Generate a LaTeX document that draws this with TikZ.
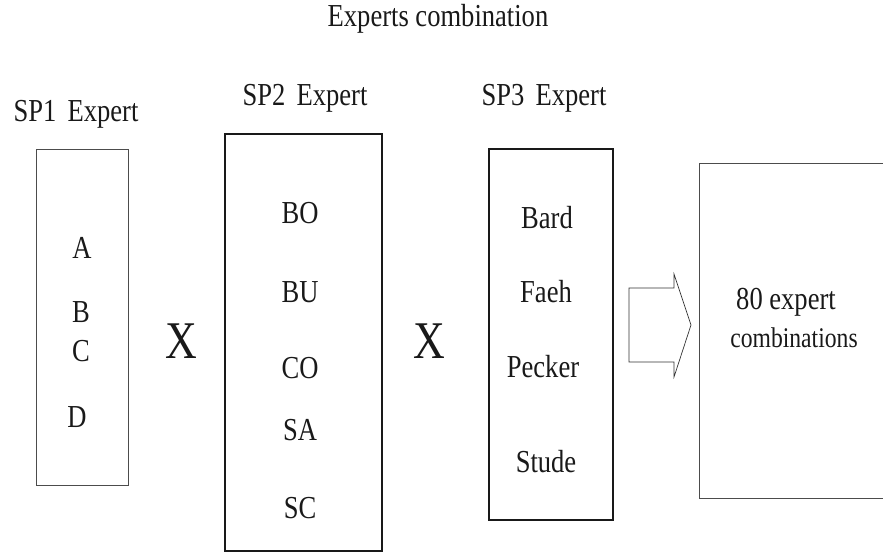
\documentclass[tikz,border=0pt]{standalone}
\usepackage{fontspec}
\setmainfont{Liberation Serif}[FakeStretch=0.83]
\begin{document}
\begin{tikzpicture}[x=1pt,y=-1pt,
  thinbox/.style={draw=black!70,line width=0.7pt},
  thickbox/.style={draw=black!90,line width=1.2pt},
  lbl/.style={font=\fontsize{32}{34}\selectfont,inner sep=0pt,anchor=base,text=black!90},
  times/.style={font=\fontsize{53}{53}\selectfont,inner sep=0pt,anchor=base,text=black!90}]
\useasboundingbox (0,0) rectangle (883,554);
\clip (0,0) rectangle (883,554);

% title and column headings
\node[lbl] (title) at (438,27) {Experts combination};
\node[lbl] (h1) at (76,121) {SP1\hspace{0.35em}Expert};
\node[lbl] (h2) at (305,105) {SP2\hspace{0.35em}Expert};
\node[lbl] (h3) at (544,105) {SP3\hspace{0.35em}Expert};

% expert boxes
\draw[thinbox] (36,149) rectangle (128,485);
\draw[thickbox] (225,134) rectangle (382,551);
\draw[thickbox] (489,149) rectangle (613,520);
\draw[thinbox] (890,163) -- (699,163) -- (699,498) -- (890,498);

% SP1 experts
\node[lbl] (a) at (82,258) {A};
\node[lbl] (b) at (81,322) {B};
\node[lbl] (c) at (81,361) {C};
\node[lbl] (d) at (77,427) {D};

% SP2 experts
\node[lbl] (bo) at (300,223) {BO};
\node[lbl] (bu) at (300,302) {BU};
\node[lbl] (co) at (300,378) {CO};
\node[lbl] (sa) at (300,440) {SA};
\node[lbl] (sc) at (300,518) {SC};

% SP3 experts
\node[lbl] (bard) at (547,228) {Bard};
\node[lbl] (faeh) at (546,302) {Faeh};
\node[lbl] (pecker) at (543,377) {Pecker};
\node[lbl] (stude) at (546,472) {Stude};

% multiplication signs
\node[times] (x1) at (181,358) {X};
\node[times] (x2) at (429,358) {X};

% result
\node[lbl] (res1) at (786,309) {80 expert};
\node[lbl,font=\fontsize{28.5}{30}\selectfont] (res2) at (794,347) {combinations};

% block arrow
\draw[draw=black!80,line width=0.7pt]
  (629,288) -- (674,288) -- (674,274) -- (691,325) -- (674,377) -- (674,362) -- (629,362) -- cycle;
\end{tikzpicture}
\end{document}
